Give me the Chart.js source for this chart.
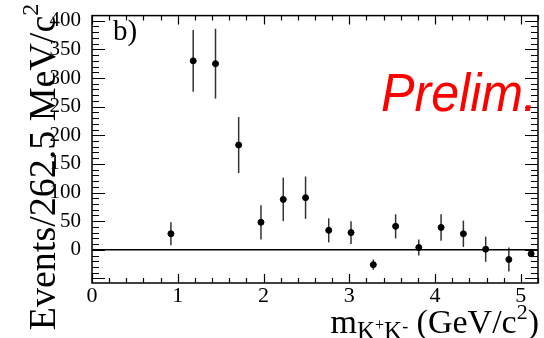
<!DOCTYPE html>
<html>
<head>
<meta charset="utf-8">
<script src="https://cdn.jsdelivr.net/npm/chart.js@4"></script>
<style>
  html, body { margin: 0; padding: 0; background: #fff; }
  #wrap { width: 544px; height: 338px; }
</style>
</head>
<body>
<div id="wrap"><canvas id="c" width="544" height="338"></canvas></div>
<script>
// bin centres (GeV/c^2), event yields and their errors
const massBins = [0.92, 1.18, 1.44, 1.71, 1.97, 2.23, 2.49, 2.76, 3.02, 3.28, 3.54, 3.81, 4.07, 4.33, 4.59, 4.86, 5.12];
const events   = [28, 330, 325, 183, 48, 88, 91, 34, 30, -26, 41, 4, 39, 28, 1, -17, -7];
const errors   = [20, 54, 61, 49, 30, 38, 37, 21, 20, 9, 21, 14, 23, 23, 22, 21, 4];

const xRange = [0, 5.2];
const yRange = [-58, 409];

const serif = '"Liberation Serif", "DejaVu Serif", serif';

// draw a row of text runs [text, size, dy]
function drawRuns(ctx, runs, x, y, align) {
  let total = 0;
  runs.forEach(r => { ctx.font = r[1] + 'px ' + serif; total += ctx.measureText(r[0]).width; });
  let cx = align === 'right' ? x - total : align === 'center' ? x - total / 2 : x;
  ctx.textAlign = 'left';
  ctx.textBaseline = 'alphabetic';
  runs.forEach(r => {
    ctx.font = r[1] + 'px ' + serif;
    ctx.fillText(r[0], cx, y + r[2]);
    cx += ctx.measureText(r[0]).width;
  });
}

// error bars, drawn before the markers
const errorBars = {
  id: 'errorBars',
  beforeDatasetsDraw(chart) {
    const { ctx, scales: { x, y } } = chart;
    ctx.save();
    ctx.strokeStyle = '#333';
    ctx.lineWidth = 1.5;
    massBins.forEach((m, i) => {
      const px = x.getPixelForValue(m);
      ctx.beginPath();
      ctx.moveTo(px, y.getPixelForValue(events[i] + errors[i]));
      ctx.lineTo(px, y.getPixelForValue(events[i] - errors[i]));
      ctx.stroke();
    });
    ctx.restore();
  }
};

// ROOT style frame, inward ticks, zero line and texts
const rootFrame = {
  id: 'rootFrame',
  afterDraw(chart) {
    const { ctx, chartArea: { left, right, top, bottom }, scales: { x, y } } = chart;
    ctx.save();
    ctx.strokeStyle = '#000';
    ctx.lineWidth = 1.5;
    ctx.strokeRect(left, top, right - left, bottom - top);

    // zero line
    ctx.beginPath();
    ctx.moveTo(left, y.getPixelForValue(0));
    ctx.lineTo(right, y.getPixelForValue(0));
    ctx.stroke();

    ctx.lineWidth = 1.2;
    ctx.beginPath();
    // x ticks every 0.2, major at integers
    for (let v = 0; v <= 5.2001; v += 0.2) {
      const px = Math.round(x.getPixelForValue(v)) + 0.5;
      const major = Math.abs(v - Math.round(v)) < 1e-6;
      const len = major ? 9 : 5;
      ctx.moveTo(px, bottom); ctx.lineTo(px, bottom - len);
      ctx.moveTo(px, top); ctx.lineTo(px, top + len);
    }
    // y ticks every 10, major every 50
    for (let v = -50; v <= 400; v += 10) {
      const py = Math.round(y.getPixelForValue(v)) + 0.5;
      const major = v % 50 === 0;
      const len = major ? 13 : 7;
      ctx.moveTo(left, py); ctx.lineTo(left + len, py);
      ctx.moveTo(right, py); ctx.lineTo(right - len, py);
    }
    ctx.stroke();

    ctx.fillStyle = '#000';
    // panel label
    ctx.font = '29px ' + serif;
    ctx.textAlign = 'left';
    ctx.textBaseline = 'alphabetic';
    ctx.fillText('b)', 113, 40);

    // x title
    drawRuns(ctx, [['m', 34, 0], ['K', 25, 6], ['+', 16, -3], ['K', 25, 6], ['-', 18, -1], [' (GeV/c', 34, 0], ['2', 22, -14], [')', 34, 0]], 539, 333, 'right');

    // y title
    ctx.save();
    ctx.translate(55, 167);
    ctx.rotate(-Math.PI / 2);
    drawRuns(ctx, [['Events/262.5 MeV/c', 38, 0], ['2', 24, -17]], 0, 0, 'center');
    ctx.restore();

    // preliminary stamp
    ctx.fillStyle = '#ff0000';
    ctx.font = 'italic 54px "Liberation Sans", Arial, sans-serif';
    ctx.textAlign = 'left';
    ctx.fillText('Prelim.', 381, 111, 156);
    ctx.restore();
  }
};

new Chart(document.getElementById('c'), {
  type: 'scatter',
  data: {
    datasets: [{
      data: massBins.map((m, i) => ({ x: m, y: events[i] })),
      backgroundColor: '#000',
      borderColor: '#000',
      pointRadius: 3,
      pointHoverRadius: 3
    }]
  },
  options: {
    responsive: false,
    animation: false,
    layout: { padding: { left: 0, top: 10, right: 6, bottom: 0 } },
    plugins: { legend: { display: false }, tooltip: { enabled: false } },
    scales: {
      x: {
        type: 'linear',
        min: xRange[0], max: xRange[1],
        grid: { display: false, drawTicks: false },
        border: { display: false },
        ticks: {
          stepSize: 1, includeBounds: false, padding: 0, color: '#000',
          maxRotation: 0, autoSkip: false,
          font: { family: serif, size: 22 }
        },
        afterFit(scale) { scale.height = 55; }
      },
      y: {
        min: yRange[0], max: yRange[1],
        grid: { display: false },
        border: { display: false },
        ticks: {
          stepSize: 50, includeBounds: false, padding: 3, color: '#000',
          autoSkip: false,
          font: { family: serif, size: 21 },
          callback: v => (v < 0 ? '' : v)
        },
        afterFit(scale) { scale.width = 92; }
      }
    }
  },
  plugins: [errorBars, rootFrame]
});
</script>
</body>
</html>
